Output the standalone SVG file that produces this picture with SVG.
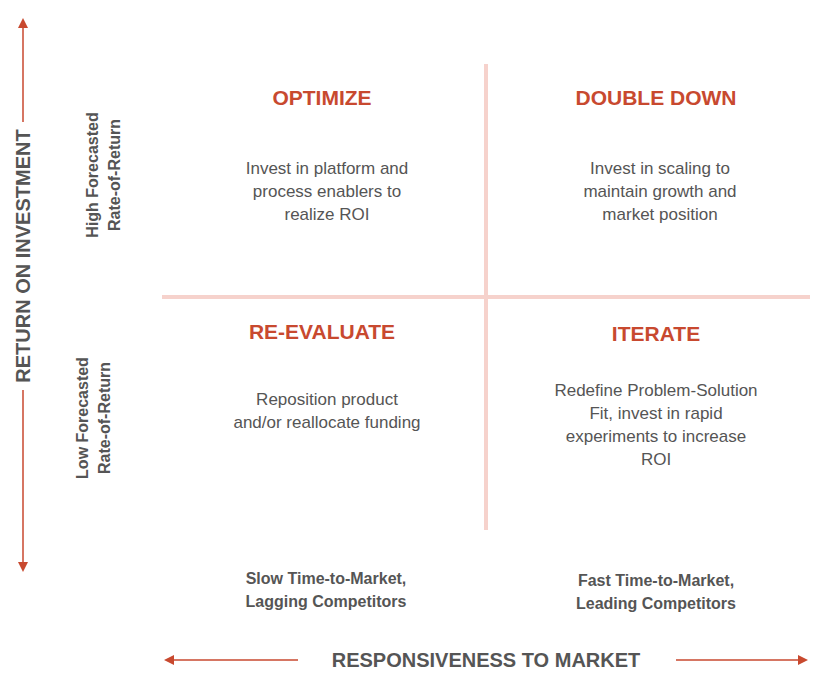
<svg xmlns="http://www.w3.org/2000/svg" width="828" height="684" viewBox="0 0 828 684">
<style>
.ax{stroke:#c8492f;stroke-width:1.5;fill:none}
.grid{stroke:#f6d2cc;stroke-width:4}
.t{font-family:"Helvetica Neue","Liberation Sans",Arial,sans-serif;text-anchor:middle}
.h{fill:#c8492f;font-size:21px;font-weight:bold}
.b{fill:#555;font-size:17px}
.lab{fill:#555;font-size:16px;font-weight:bold}
.axt{fill:#555;font-size:20px;font-weight:bold}
</style>
<defs><marker id="ar" markerWidth="10" markerHeight="10" refX="8" refY="5" orient="auto" markerUnits="userSpaceOnUse"><path d="M0,0 L10,5 L0,10 z" fill="#c8492f"/></marker></defs>
<g id="connectors">
<line class="grid" x1="486" y1="64" x2="486" y2="530"/>
<line class="grid" x1="162" y1="297" x2="810" y2="297"/>
<line class="ax" x1="23" y1="122" x2="23" y2="20" marker-end="url(#ar)"/>
<line class="ax" x1="23" y1="390" x2="23" y2="570" marker-end="url(#ar)"/>
<line class="ax" x1="298" y1="660" x2="166" y2="660" marker-end="url(#ar)"/>
<line class="ax" x1="676" y1="660" x2="806" y2="660" marker-end="url(#ar)"/>
</g>
<g id="axis-y"><text class="t axt" transform="translate(30,256) rotate(-90)">RETURN ON INVESTMENT</text></g>
<g id="axis-x"><text class="t axt" x="486" y="667">RESPONSIVENESS TO MARKET</text></g>
<g id="label-high"><text class="t lab" transform="translate(98,175) rotate(-90)"><tspan x="0" y="0">High Forecasted</tspan><tspan x="0" y="22">Rate-of-Return</tspan></text></g>
<g id="label-low"><text class="t lab" transform="translate(88,418) rotate(-90)"><tspan x="0" y="0">Low Forecasted</tspan><tspan x="0" y="22">Rate-of-Return</tspan></text></g>
<g id="label-slow"><text class="t lab"><tspan x="326" y="584">Slow Time-to-Market,</tspan><tspan x="326" y="607">Lagging Competitors</tspan></text></g>
<g id="label-fast"><text class="t lab"><tspan x="656" y="586">Fast Time-to-Market,</tspan><tspan x="656" y="609">Leading Competitors</tspan></text></g>
<g id="optimize"><text class="t h" x="322" y="105">OPTIMIZE</text>
<text class="t b"><tspan x="327" y="174">Invest in platform and</tspan><tspan x="327" y="197">process enablers to</tspan><tspan x="327" y="220">realize ROI</tspan></text></g>
<g id="double-down"><text class="t h" x="656" y="105">DOUBLE DOWN</text>
<text class="t b"><tspan x="660" y="174">Invest in scaling to</tspan><tspan x="660" y="197">maintain growth and</tspan><tspan x="660" y="220">market position</tspan></text></g>
<g id="re-evaluate"><text class="t h" x="322" y="339">RE-EVALUATE</text>
<text class="t b"><tspan x="327" y="405">Reposition product</tspan><tspan x="327" y="428">and/or reallocate funding</tspan></text></g>
<g id="iterate"><text class="t h" x="656" y="341">ITERATE</text>
<text class="t b"><tspan x="656" y="396">Redefine Problem-Solution</tspan><tspan x="656" y="419">Fit, invest in rapid</tspan><tspan x="656" y="442">experiments to increase</tspan><tspan x="656" y="465">ROI</tspan></text></g>
</svg>
